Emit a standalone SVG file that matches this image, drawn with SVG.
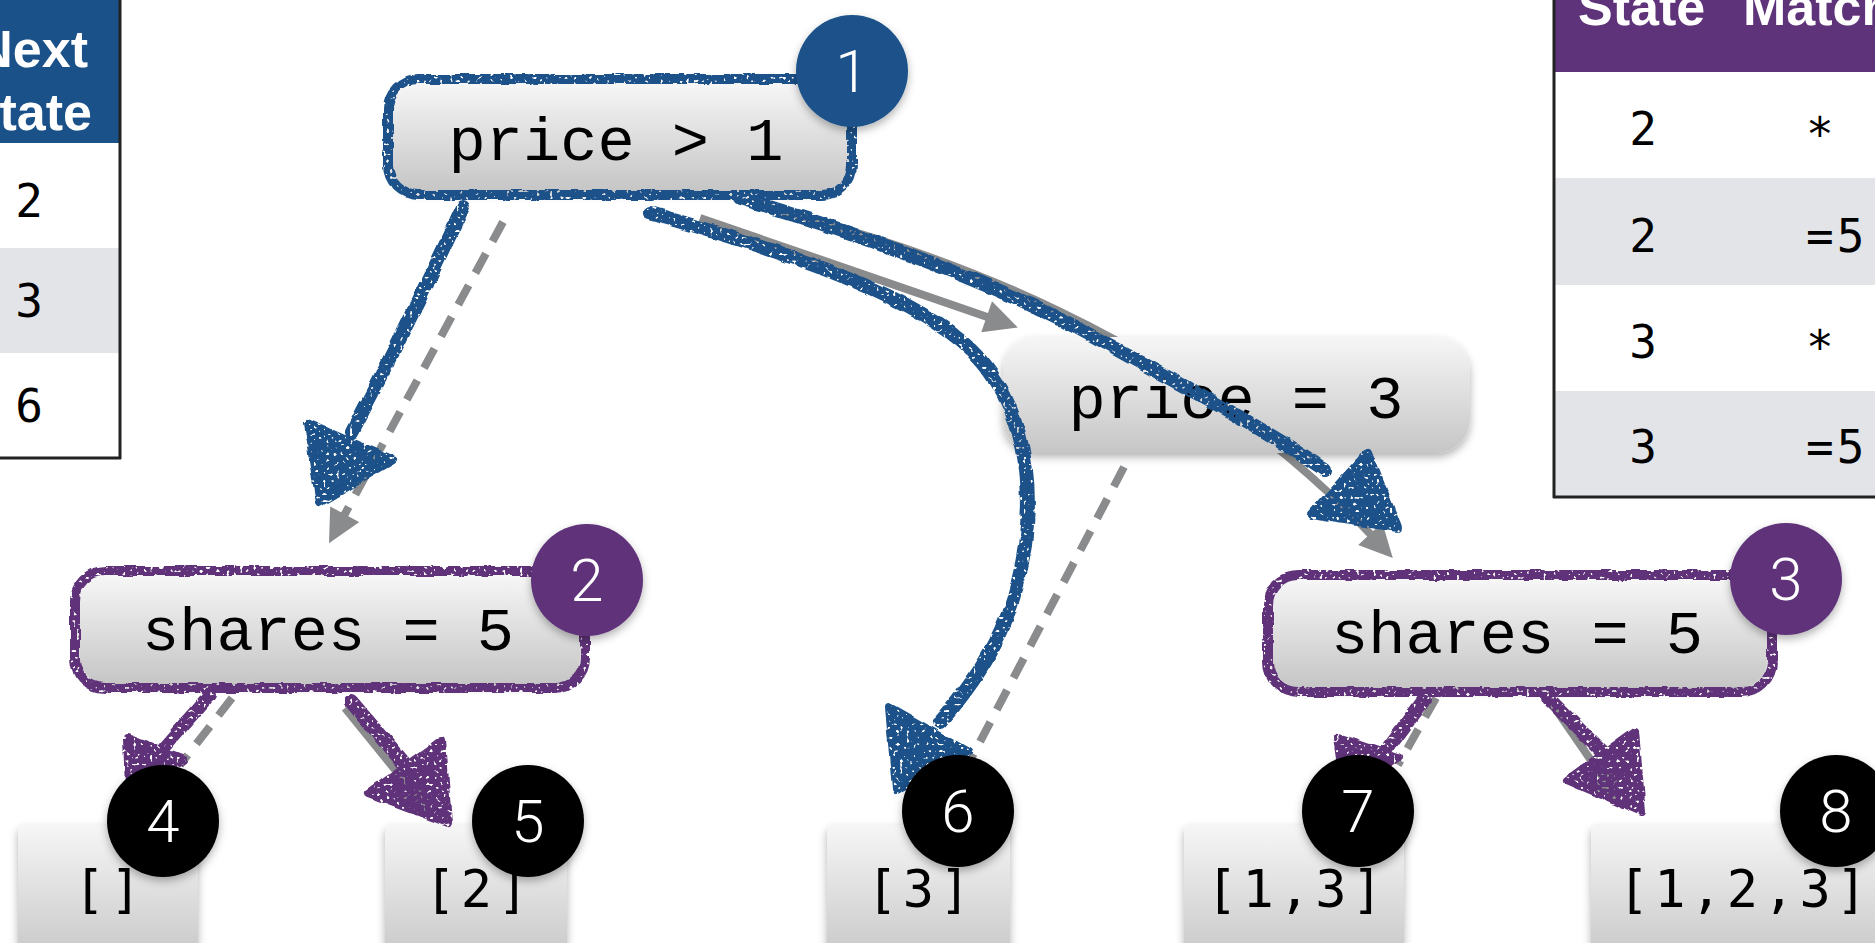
<svg xmlns="http://www.w3.org/2000/svg" width="1875" height="943" viewBox="0 0 1875 943">
  <defs>
    <style>
      .node-text { font-family: "Courier New", "Liberation Mono", monospace; font-size: 62px; fill: #000; text-anchor: middle; }
      .leaf-text { font-family: "DejaVu Sans Mono", "Liberation Mono", monospace; font-size: 52px; fill: #000; text-anchor: middle; letter-spacing: 5px; }
      .badge-text { font-family: Roboto, "Liberation Sans", sans-serif; font-weight: 300; font-size: 60px; fill: #fff; text-anchor: middle; }
      .th { font-family: "Liberation Sans", Arial, sans-serif; font-weight: bold; font-size: 52px; fill: #fff; }
      .td { font-family: "DejaVu Sans Mono", monospace; font-size: 46px; fill: #000; }
      .box { fill: url(#boxGrad); filter: url(#shadow); }
      .grey { fill: none; stroke: #8a8b8d; stroke-width: 8; }
      .dash { stroke-dasharray: 22 14; }
      .sketch-blue { fill: none; stroke: #1a5189; stroke-width: 14; stroke-linecap: round; stroke-linejoin: round; }
      .sketch-purple { fill: none; stroke: #5e3379; stroke-width: 14; stroke-linecap: round; stroke-linejoin: round; }
      .outline { stroke-width: 10; }
      .head-blue { fill: #1a5189; stroke: #1a5189; stroke-width: 8; stroke-linejoin: round; }
      .head-purple { fill: #5e3379; stroke: #5e3379; stroke-width: 8; stroke-linejoin: round; }
      .rule { stroke: #222; stroke-width: 3; fill: none; }
    </style>
    <linearGradient id="boxGrad" x1="0" y1="0" x2="0" y2="1">
      <stop offset="0" stop-color="#f6f6f6"/>
      <stop offset="1" stop-color="#c6c6c6"/>
    </linearGradient>
    <filter id="shadow" x="-10%" y="-20%" width="120%" height="150%">
      <feDropShadow dx="0" dy="4" stdDeviation="4" flood-color="#000" flood-opacity="0.3"/>
    </filter>
    <!-- chalky hand-drawn look: wobble the edges and punch a few small speckles -->
    <filter id="rough" filterUnits="userSpaceOnUse" x="0" y="0" width="1875" height="943">
      <feTurbulence type="fractalNoise" baseFrequency="0.07" numOctaves="1" seed="4" result="wob"/>
      <feDisplacementMap in="SourceGraphic" in2="wob" scale="6" xChannelSelector="R" yChannelSelector="G" result="moved"/>
      <feTurbulence type="fractalNoise" baseFrequency="0.3" numOctaves="1" seed="11" result="grain"/>
      <feColorMatrix in="grain" type="matrix" values="0 0 0 0 0  0 0 0 0 0  0 0 0 0 0  -14 0 0 0 9.9" result="holes"/>
      <feComposite in="moved" in2="holes" operator="in"/>
    </filter>
    <marker id="greyHead" viewBox="0 0 10 10" refX="3" refY="5" markerUnits="userSpaceOnUse" markerWidth="34" markerHeight="33" orient="auto">
      <path d="M0,0 L10,5 L0,10 z" fill="#8a8b8d"/>
    </marker>
  </defs>

  <rect x="0" y="0" width="1875" height="943" fill="#fff"/>

  <!-- left table (next state) -->
  <g id="table-next-state">
    <rect x="0" y="0" width="120" height="143" fill="#1a5189"/>
    <rect x="0" y="143" width="120" height="105" fill="#fff"/>
    <rect x="0" y="248" width="120" height="105" fill="#e3e4e8"/>
    <rect x="0" y="353" width="120" height="105" fill="#fff"/>
    <text class="th" x="88" y="67" text-anchor="end">Next</text>
    <text class="th" x="92" y="130" text-anchor="end">State</text>
    <text class="td" x="29" y="217" text-anchor="middle">2</text>
    <text class="td" x="29" y="317" text-anchor="middle">3</text>
    <text class="td" x="29" y="422" text-anchor="middle">6</text>
    <path class="rule" d="M120,0 V459 M0,458 H121"/>
  </g>

  <!-- right table (state / match) -->
  <g id="table-state-match">
    <rect x="1554" y="0" width="321" height="72" fill="#5e3379"/>
    <rect x="1554" y="72" width="321" height="106" fill="#fff"/>
    <rect x="1554" y="178" width="321" height="107" fill="#e3e4e8"/>
    <rect x="1554" y="285" width="321" height="106" fill="#fff"/>
    <rect x="1554" y="391" width="321" height="106" fill="#e3e4e8"/>
    <text class="th" x="1578" y="25">State</text>
    <text class="th" x="1743" y="25">Match</text>
    <text class="td" x="1643" y="145" text-anchor="middle">2</text>
    <text class="td" x="1643" y="252" text-anchor="middle">2</text>
    <text class="td" x="1643" y="358" text-anchor="middle">3</text>
    <text class="td" x="1643" y="463" text-anchor="middle">3</text>
    <text class="td" x="1806" y="150" letter-spacing="3">*</text>
    <text class="td" x="1806" y="252" letter-spacing="3">=5</text>
    <text class="td" x="1806" y="363" letter-spacing="3">*</text>
    <text class="td" x="1806" y="463" letter-spacing="3">=5</text>
    <path class="rule" d="M1554,0 V498 M1553,497 H1875"/>
  </g>

  <!-- result leaves -->
  <g id="leaf-4"><rect class="box" x="18" y="825" width="180" height="140" rx="6"/><text class="leaf-text" x="110" y="907">[]</text></g>
  <g id="leaf-5"><rect class="box" x="385" y="825" width="182" height="140" rx="6"/><text class="leaf-text" x="479" y="907">[2]</text></g>
  <g id="leaf-6"><rect class="box" x="827" y="825" width="183" height="140" rx="6"/><text class="leaf-text" x="921" y="907">[3]</text></g>
  <g id="leaf-7"><rect class="box" x="1184" y="825" width="220" height="140" rx="6"/><text class="leaf-text" x="1297" y="907">[1,3]</text></g>
  <g id="leaf-8"><rect class="box" x="1591" y="825" width="304" height="140" rx="6"/><text class="leaf-text" x="1745" y="907">[1,2,3]</text></g>

  <!-- plain tree edges -->
  <g id="connectors">
    <path class="grey dash" d="M503,222 L340,523" marker-end="url(#greyHead)"/>
    <path class="grey" d="M700,218 L996,320" marker-end="url(#greyHead)"/>
    <path class="grey" d="M760,205 C930,250 1180,330 1377,541" marker-end="url(#greyHead)"/>
    <path class="grey dash" d="M1124,467 L972,757"/>
    <path class="grey dash" d="M232,698 L180,765"/>
    <path class="grey" d="M345,708 L418,798" marker-end="url(#greyHead)"/>
    <path class="grey dash" d="M1436,698 L1398,765"/>
    <path class="grey" d="M1548,698 L1608,785" marker-end="url(#greyHead)"/>
  </g>

  <!-- decision nodes -->
  <g id="node-price-gt-1">
    <rect class="box" x="392" y="84" width="456" height="106" rx="26"/>
    <text class="node-text" x="616" y="160">price &gt; 1</text>
  </g>
  <g id="node-price-eq-3">
    <rect class="box" x="1003" y="337" width="467" height="116" rx="34"/>
    <text class="node-text" x="1236" y="418">price = 3</text>
  </g>
  <g id="node-shares-left">
    <rect class="box" x="80" y="576" width="500" height="107" rx="26"/>
    <text class="node-text" x="328" y="650">shares = 5</text>
  </g>
  <g id="node-shares-right">
    <rect class="box" x="1273" y="580" width="494" height="107" rx="26"/>
    <text class="node-text" x="1517" y="653">shares = 5</text>
  </g>

  <!-- hand-drawn traversal marks -->
  <g id="sketch-marks" filter="url(#rough)">
    <rect class="sketch-blue outline" x="388" y="79" width="464" height="116" rx="30"/>
    <rect class="sketch-purple outline" x="75" y="571" width="510" height="117" rx="30"/>
    <rect class="sketch-purple outline" x="1268" y="575" width="504" height="117" rx="30"/>

    <path class="sketch-blue" d="M463,207 Q412,318 352,432"/>
    <polygon class="head-blue" points="307,423 393,460 320,503"/>

    <path class="sketch-blue" d="M650,213 C780,250 900,290 960,340 C1020,390 1035,470 1025,545 C1015,620 985,670 940,722"/>
    <polygon class="head-blue" points="889,707 968,752 896,790"/>

    <path class="sketch-blue" d="M740,198 C880,240 1000,285 1100,340 C1180,385 1260,425 1325,470"/>
    <polygon class="head-blue" points="1368,452 1311,515 1398,528"/>

    <path class="sketch-purple" d="M210,695 L162,750"/>
    <polygon class="head-purple" points="127,738 184,760 129,788"/>

    <path class="sketch-purple" d="M352,702 L405,765"/>
    <polygon class="head-purple" points="442,740 368,793 448,823"/>

    <path class="sketch-purple" d="M1424,700 L1385,752"/>
    <polygon class="head-purple" points="1338,737 1398,758 1346,792"/>

    <path class="sketch-purple" d="M1548,698 L1602,752"/>
    <polygon class="head-purple" points="1635,731 1567,780 1642,812"/>
  </g>

  <!-- numbered badges -->
  <g id="badge-1"><circle cx="852" cy="71" r="56" fill="#1a5189" filter="url(#shadow)"/><text class="badge-text" x="852" y="92">1</text></g>
  <g id="badge-2"><circle cx="587" cy="580" r="56" fill="#5e3379" filter="url(#shadow)"/><text class="badge-text" x="587" y="601">2</text></g>
  <g id="badge-3"><circle cx="1786" cy="579" r="56" fill="#5e3379" filter="url(#shadow)"/><text class="badge-text" x="1786" y="600">3</text></g>
  <g id="badge-4"><circle cx="163" cy="821" r="56" fill="#000" filter="url(#shadow)"/><text class="badge-text" x="163" y="842">4</text></g>
  <g id="badge-5"><circle cx="528" cy="821" r="56" fill="#000" filter="url(#shadow)"/><text class="badge-text" x="528" y="842">5</text></g>
  <g id="badge-6"><circle cx="958" cy="811" r="56" fill="#000" filter="url(#shadow)"/><text class="badge-text" x="958" y="832">6</text></g>
  <g id="badge-7"><circle cx="1358" cy="811" r="56" fill="#000" filter="url(#shadow)"/><text class="badge-text" x="1358" y="832">7</text></g>
  <g id="badge-8"><circle cx="1836" cy="811" r="56" fill="#000" filter="url(#shadow)"/><text class="badge-text" x="1836" y="832">8</text></g>
</svg>
